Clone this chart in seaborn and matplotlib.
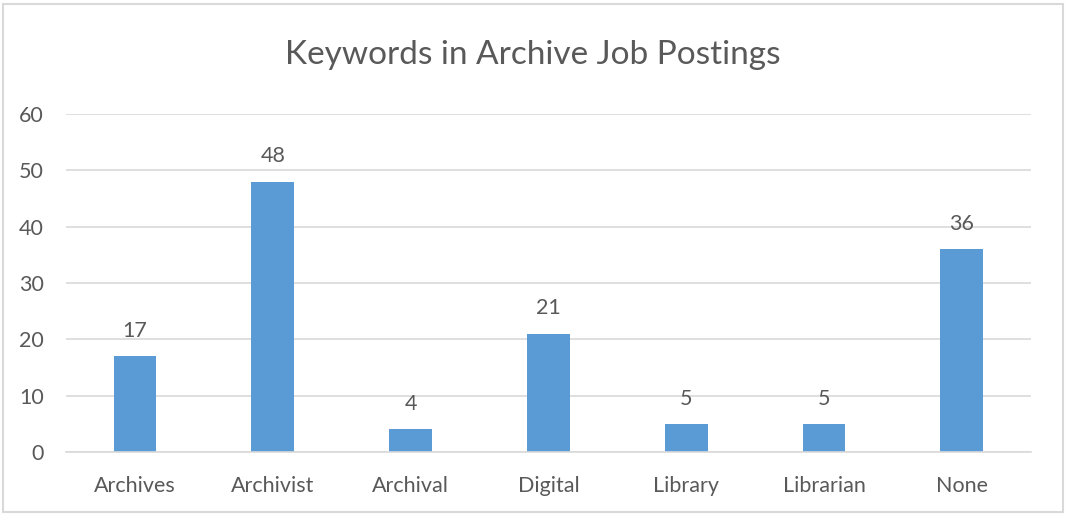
import matplotlib
matplotlib.use("Agg")
import matplotlib.pyplot as plt
import seaborn as sns
import pandas as pd
from matplotlib.patches import Rectangle

keywords = ["Archives", "Archivist", "Archival", "Digital", "Library", "Librarian", "None"]
counts = [17, 48, 4, 21, 5, 5, 36]
y_ticks = [0, 10, 20, 30, 40, 50, 60]

title = "Keywords in Archive Job Postings"
bar_color = "#5B9BD5"
text_color = "#595959"
grid_color = "#D9D9D9"

sns.set_theme(style="white")
plt.rcParams["font.family"] = ["Lato", "DejaVu Sans"]

df = pd.DataFrame({"keyword": keywords, "count": counts})

fig = plt.figure(figsize=(10.66, 5.15), dpi=100)
ax = fig.add_axes([0.0619, 0.1223, 0.905, 0.6563])

sns.barplot(data=df, x="keyword", y="count", color=bar_color, width=0.31,
            saturation=1, linewidth=0, ax=ax, zorder=3)

ax.set_ylim(0, 60)
ax.set_yticks(y_ticks)
ax.set_xlim(-0.5, len(keywords) - 0.5)
ax.yaxis.grid(True, color=grid_color, linewidth=1.2, zorder=0)
ax.xaxis.grid(False)
for side in ["top", "right", "left"]:
    ax.spines[side].set_visible(False)
ax.spines["bottom"].set_color(grid_color)
ax.spines["bottom"].set_linewidth(1.2)
ax.spines["bottom"].set_zorder(4)

ax.set_xlabel("")
ax.set_ylabel("")
ax.tick_params(axis="both", length=0, labelsize=15.5, labelcolor=text_color)
ax.tick_params(axis="x", pad=17)
ax.tick_params(axis="y", pad=16)

for i, v in enumerate(counts):
    ax.annotate(str(v), (i, v), xytext=(0, 11), textcoords="offset points",
                ha="center", va="bottom", fontsize=15.5, color=text_color)

fig.text(0.5, 0.893, title, ha="center", va="center", fontsize=24, color=text_color)

fig.patches.append(Rectangle((0.003, 0.006), 0.994, 0.987, transform=fig.transFigure,
                             fill=False, edgecolor=grid_color, linewidth=1.5))

fig.savefig("out.png", dpi=100, facecolor="white")
